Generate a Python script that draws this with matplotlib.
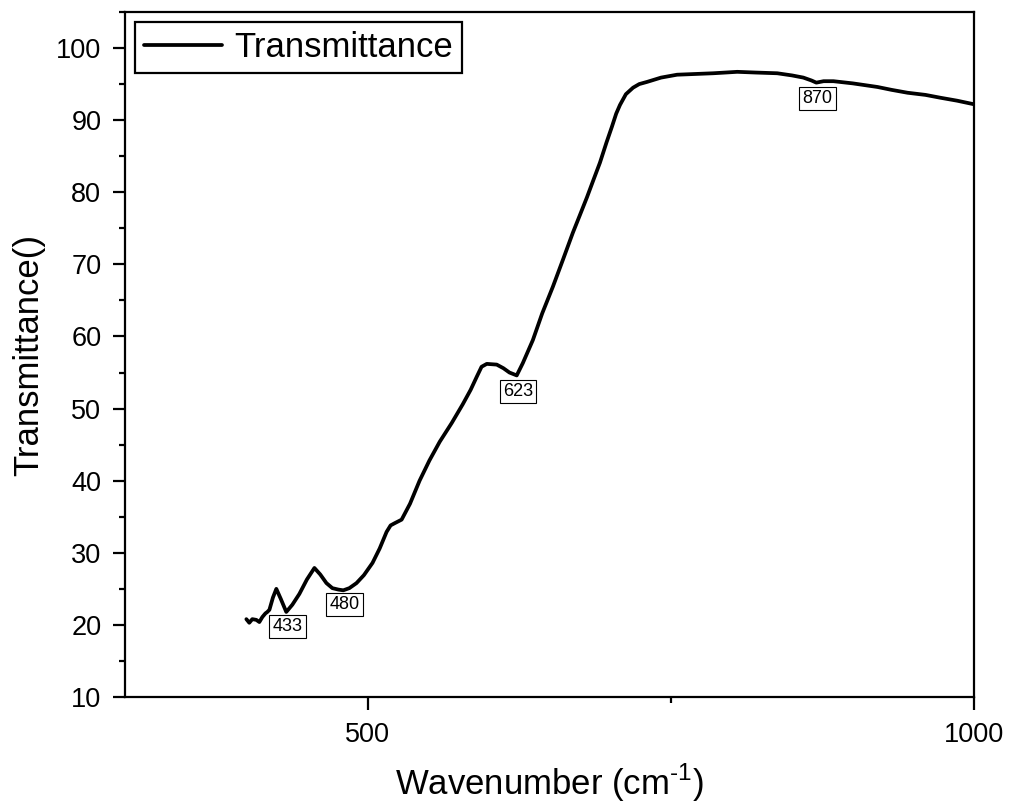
import matplotlib
matplotlib.use("Agg")
import matplotlib.pyplot as plt
from matplotlib.ticker import MultipleLocator

plt.rcParams["font.family"] = ["Liberation Sans", "DejaVu Sans"]
plt.rcParams["mathtext.fontset"] = "custom"
plt.rcParams["mathtext.rm"] = "Liberation Sans"

# FTIR spectrum (wavenumber in cm^-1, transmittance)
wavenumber = [400.1, 402.5, 405.0, 408.3, 410.8, 413.3, 415.8, 417.4, 419.1,
              422.0, 424.8, 428.5, 433.0, 438.0, 443.8, 450.0, 456.2, 461.0,
              466.1, 471.0, 476.0, 480.0, 485.0, 490.9, 497.0, 504.1, 510.0,
              515.7, 519.0, 522.3, 528.1, 535.0, 542.9, 551.0, 559.5, 569.4,
              578.5, 585.0, 590.0, 594.0, 598.3, 606.5, 612.0, 617.0, 623.0,
              628.0, 636.3, 644.0, 652.8, 661.0, 669.3, 675.0, 680.9, 686.0,
              691.6, 697.0, 701.5, 705.0, 708.1, 713.0, 718.9, 724.0, 730.4,
              742.0, 755.2, 770.0, 784.9, 795.0, 804.8, 820.0, 837.8, 850.0,
              859.3, 866.0, 870.0, 876.0, 884.1, 900.0, 920.4, 932.0, 945.2,
              960.0, 972.5, 986.0, 1000.0]
transmittance = [20.8, 20.3, 20.8, 20.7, 20.4, 21.1, 21.6, 21.8, 22.1,
                 23.8, 25.0, 23.6, 21.8, 22.8, 24.3, 26.3, 27.9, 27.0,
                 25.8, 25.1, 24.9, 24.8, 25.1, 25.8, 26.9, 28.6, 30.6,
                 32.9, 33.8, 34.1, 34.6, 36.8, 40.0, 42.8, 45.4, 48.0,
                 50.6, 52.6, 54.4, 55.8, 56.2, 56.1, 55.6, 55.0, 54.6,
                 56.3, 59.5, 63.2, 66.9, 70.6, 74.4, 76.8, 79.3, 81.6,
                 84.1, 86.9, 89.1, 90.9, 92.1, 93.6, 94.5, 95.0, 95.3,
                 95.9, 96.3, 96.4, 96.5, 96.6, 96.7, 96.6, 96.5, 96.2,
                 95.9, 95.5, 95.2, 95.4, 95.4, 95.1, 94.6, 94.2, 93.8,
                 93.5, 93.1, 92.7, 92.2]

# Peak annotations: wavenumber, label y-position
peak_labels = ["433", "480", "623", "870"]
peak_x = [433, 480, 623, 870]
peak_label_y = [19.8, 22.8, 52.4, 93.0]

fig = plt.figure(figsize=(10.11, 8.09), dpi=100)
ax = fig.add_axes([0.1236, 0.1384, 0.8398, 0.8468])

ax.plot(wavenumber, transmittance, color="black", lw=2.7, label="Transmittance",
        solid_joinstyle="round", solid_capstyle="round")

for lab, xv, yv in zip(peak_labels, peak_x, peak_label_y):
    ax.text(xv + 1, yv, lab, ha="center", va="center", fontsize=13,
            bbox=dict(boxstyle="square,pad=0.18", fc="white", ec="black", lw=0.8))

ax.set_xlim(300, 1000)
ax.set_ylim(10, 105)
ax.xaxis.set_major_locator(MultipleLocator(500))
ax.xaxis.set_minor_locator(MultipleLocator(250))
ax.yaxis.set_major_locator(MultipleLocator(10))
ax.yaxis.set_minor_locator(MultipleLocator(5))

ax.tick_params(axis="x", which="major", pad=9)
ax.tick_params(axis="y", which="major", pad=8)
ax.tick_params(which="major", direction="out", length=9, width=1.6,
               labelsize=19.5)
ax.tick_params(which="minor", direction="out", length=4.5, width=1.6)
for sp in ax.spines.values():
    sp.set_linewidth(1.6)

ax.set_xlabel(r"Wavenumber (cm$^{\text{-1}}$)", fontsize=25, labelpad=10)
ax.set_ylabel("Transmittance()", fontsize=25, labelpad=8)

leg = ax.legend(loc="upper left", fontsize=25, frameon=True, fancybox=False,
                handlelength=2.25, handletextpad=0.35, borderpad=0.25,
                borderaxespad=0.3, framealpha=1)
leg.get_frame().set_edgecolor("black")
leg.get_frame().set_linewidth(1.6)

fig.savefig("out.png", dpi=100)
